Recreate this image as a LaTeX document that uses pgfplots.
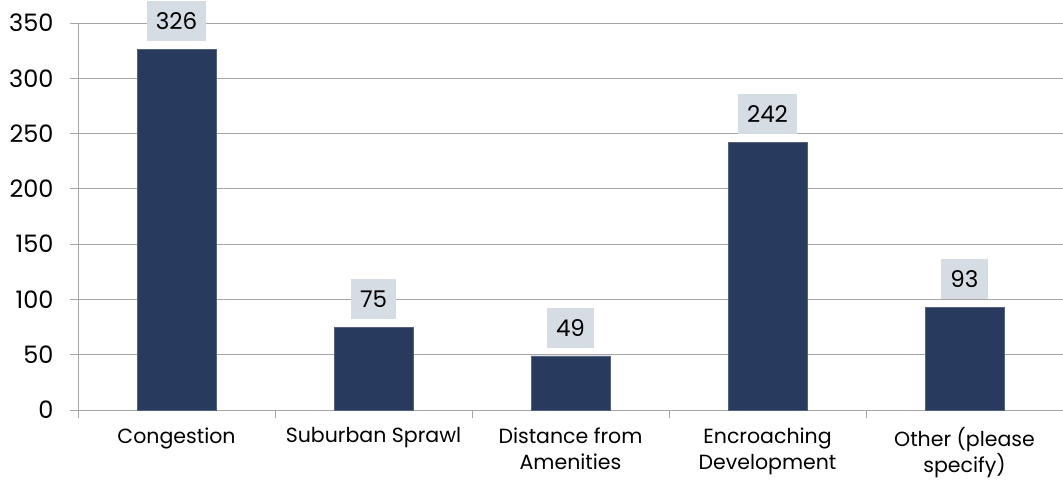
\documentclass[border=0pt]{standalone}
\usepackage{pgfplots}
\pgfplotsset{compat=1.18}
\usepackage{fontspec}
\setmainfont{Poppins}
\definecolor{barc}{HTML}{293A5F}
\definecolor{boxc}{HTML}{D6DCE4}
\definecolor{gridc}{HTML}{A6A6A6}
\begin{document}
\begin{tikzpicture}
\begin{axis}[
  scale only axis,
  width=985pt, height=387pt,
  ymin=0, ymax=350,
  xmin=-0.5, xmax=4.5,
  ytick={0,50,...,350},
  xtick={0,1,2,3,4},
  xticklabels={Congestion,Suburban Sprawl,Distance from\\Amenities,Encroaching\\Development,Other (please\\specify)},
  minor xtick={-0.5,0.5,1.5,2.5,3.5,4.5},
  axis x line*=bottom, axis y line*=left,
  axis line style={gridc,-},
  ymajorgrids, major grid style={gridc, line width=0.8pt},
  tick align=outside,
  major tick length=8pt, minor tick length=8pt,
  x tick style={draw=none},
  minor x tick style={draw=gridc, line width=0.8pt},
  y tick style={draw=gridc, line width=0.8pt},
  /pgf/number format/assume math mode=true,
  yticklabel style={font=\fontsize{24}{28}\selectfont, xshift=-13pt, text=black},
  xticklabel style={font=\fontsize{20.5}{26}\selectfont, align=center, yshift=-6pt, text=black},
  ybar, bar width=79pt,
  nodes near coords,
  every node near coord/.append style={anchor=south, yshift=8pt, fill=boxc,
    font=\fontsize{23}{26}\selectfont, inner xsep=9pt, minimum height=40pt, text=black},
]
\addplot[fill=barc, draw=barc!80!white, line width=0.5pt] coordinates {(0,326) (1,75) (2,49) (3,242) (4,93)};
\end{axis}
\pgfresetboundingbox
\path[use as bounding box] ([xshift=-78pt,yshift=-70pt]current axis.south west) rectangle ([yshift=23pt]current axis.north east);
\end{tikzpicture}
\end{document}
